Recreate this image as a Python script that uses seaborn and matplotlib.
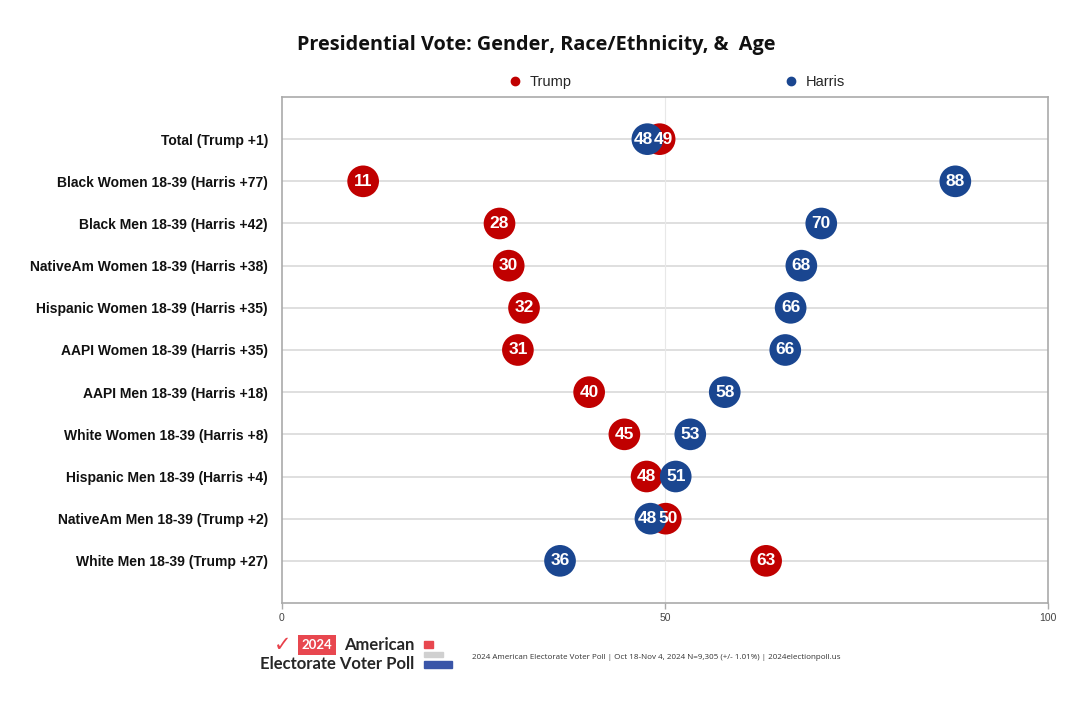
import pandas as pd
import matplotlib.pyplot as plt
import matplotlib.patches as mpatches
import seaborn as sns

groups = ["Total (Trump +1)", "Black Women 18-39 (Harris +77)", "Black Men 18-39 (Harris +42)",
          "NativeAm Women 18-39 (Harris +38)", "Hispanic Women 18-39 (Harris +35)",
          "AAPI Women 18-39 (Harris +35)", "AAPI Men 18-39 (Harris +18)",
          "White Women 18-39 (Harris +8)", "Hispanic Men 18-39 (Harris +4)",
          "NativeAm Men 18-39 (Trump +2)", "White Men 18-39 (Trump +27)"]
# unrounded shares (dot positions) and the rounded labels shown in the dots
trump = [49.3, 10.6, 28.4, 29.6, 31.6, 30.8, 40.1, 44.7, 47.6, 50.1, 63.2]
harris = [47.7, 87.9, 70.4, 67.8, 66.4, 65.7, 57.8, 53.3, 51.4, 48.1, 36.3]
trump_labels = [49, 11, 28, 30, 32, 31, 40, 45, 48, 50, 63]
harris_labels = [48, 88, 70, 68, 66, 66, 58, 53, 51, 48, 36]
x_ticks = [0, 50, 100]

RED = "#C00000"
BLUE = "#1A4690"

df = pd.concat([
    pd.DataFrame({"group": groups, "value": trump, "label": trump_labels, "candidate": "Trump"}),
    pd.DataFrame({"group": groups, "value": harris, "label": harris_labels, "candidate": "Harris"}),
])

sns.set_theme(style="white")
plt.rcParams['font.family'] = ['Liberation Sans', 'DejaVu Sans']

fig = plt.figure(figsize=(10.79, 7.09), dpi=100)
ax = fig.add_axes([0.2613, 0.1495, 0.71, 0.7137])

sns.scatterplot(data=df, x="value", y="group", hue="candidate",
                palette={"Trump": RED, "Harris": BLUE}, s=520, edgecolor="none",
                ax=ax, zorder=3, legend=False)

# labels: when the two dots nearly coincide, push the numbers apart so they sit side by side
min_gap = 2.7
for i, g in enumerate(groups):
    t, h = trump[i], harris[i]
    tx, hx = t, h
    if abs(t - h) < min_gap:
        mid = (t + h) / 2
        sign = 1 if t > h else -1
        tx = mid + sign * min_gap / 2
        hx = mid - sign * min_gap / 2
    for xv, lab in ((tx, trump_labels[i]), (hx, harris_labels[i])):
        ax.text(xv, i, str(lab), ha="center", va="center",
                color="white", fontsize=12.5, fontweight="bold", zorder=5)

ax.set_xlim(0, 100)
ax.set_ylim(len(groups), -1)
ax.set_xticks(x_ticks)
ax.set_xlabel("")
ax.set_ylabel("")
ax.tick_params(axis="x", colors="#444444", labelsize=7.5, length=4, width=1, color="#aaaaaa", bottom=True)
ax.tick_params(axis="y", labelsize=10, length=0, pad=10)
for lab in ax.get_yticklabels():
    lab.set_fontweight("bold")
    lab.set_color("#111111")
ax.grid(axis="y", color="#d9d9d9", linewidth=1.2, zorder=0)
ax.axvline(50, color="#e8e8e8", linewidth=0.8, zorder=1)
for sp in ax.spines.values():
    sp.set_color("#aaaaaa")
    sp.set_linewidth(1.2)

# legend
handles = [plt.Line2D([], [], marker="o", linestyle="", color=RED, markersize=6),
           plt.Line2D([], [], marker="o", linestyle="", color=BLUE, markersize=6)]
ax.legend(handles, ["Trump", "Harris"], ncol=2, loc="lower center", bbox_to_anchor=(0.51, 0.99),
          frameon=False, columnspacing=14, handletextpad=0.05, fontsize=10.5)

fig.text(0.497, 0.937, "Presidential Vote: Gender, Race/Ethnicity, &  Age", ha="center", va="center",
         fontsize=14.3, fontweight="bold", family="Open Sans", color="#111111")

# footer logo
fig.text(0.254, 0.09, "\u2713", color="#e8404a", fontsize=15, ha="left", va="center", family="DejaVu Sans")
fig.text(0.2938, 0.09, "2024", color="white", fontsize=9.5, fontweight="bold", ha="center", va="center",
         family="Lato", bbox=dict(boxstyle="square,pad=0.3", fc="#e8474f", ec="none"))
fig.text(0.3188, 0.09, "American", fontsize=12, fontweight="bold", ha="left", va="center", family="Lato")
fig.text(0.241, 0.063, "Electorate Voter Poll", fontsize=12, fontweight="bold", ha="left", va="center", family="Lato")
fig.patches.extend([
    mpatches.Rectangle((0.393, 0.086), 0.0083, 0.0099, transform=fig.transFigure, color="#e8474f"),
    mpatches.Rectangle((0.393, 0.0733), 0.0176, 0.007, transform=fig.transFigure, color="#d0d0d0"),
    mpatches.Rectangle((0.393, 0.0578), 0.026, 0.0099, transform=fig.transFigure, color="#3a55a8"),
])
fig.text(0.437, 0.073, "2024 American Electorate Voter Poll | Oct 18-Nov 4, 2024 N=9,305 (+/- 1.01%) | 2024electionpoll.us",
         fontsize=5.8, ha="left", va="center", color="#333333", family="Open Sans")

fig.savefig("out.png", dpi=100)
